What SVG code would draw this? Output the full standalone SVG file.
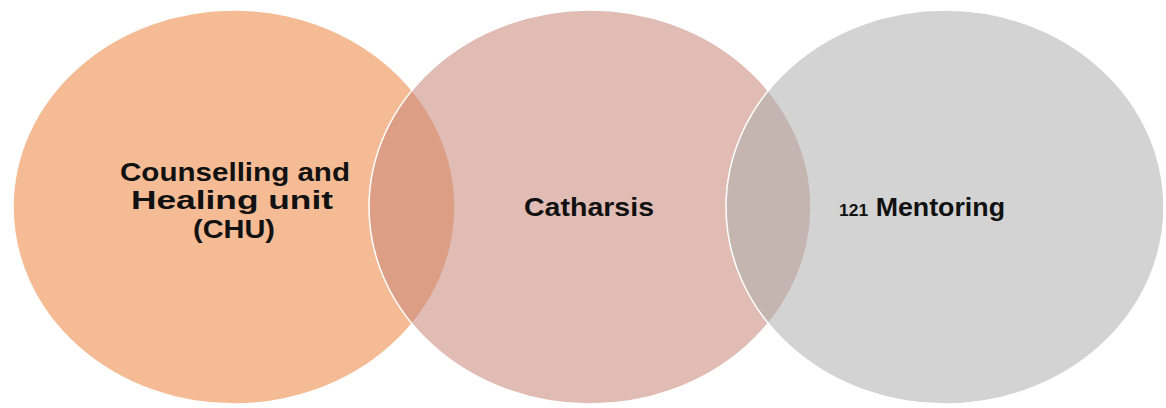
<svg xmlns="http://www.w3.org/2000/svg" width="1166" height="408" viewBox="0 0 1166 408">
  <style>
    .lbl { font-family: "Liberation Sans", Arial, sans-serif; font-weight: bold; font-size: 26px; fill: #111111; text-anchor: middle; }
    .circle { stroke: #ffffff; stroke-width: 1.5; }
  </style>
  <rect width="1166" height="408" fill="#ffffff"/>
  <g id="node-chu">
    <ellipse class="circle" cx="234" cy="207" rx="221" ry="197" fill="#F5BB95"/>
  </g>
  <g id="node-catharsis">
    <ellipse class="circle" cx="590" cy="207" rx="221" ry="197" fill="rgb(200,137,123)" fill-opacity="0.57"/>
  </g>
  <g id="node-mentoring">
    <ellipse class="circle" cx="945" cy="207" rx="219" ry="197" fill="rgb(175,175,175)" fill-opacity="0.55"/>
  </g>
  <g id="labels">
    <text class="lbl" x="235" y="181" textLength="230" lengthAdjust="spacingAndGlyphs">Counselling and</text>
    <text class="lbl" x="232" y="209" textLength="202" lengthAdjust="spacingAndGlyphs">Healing unit</text>
    <text class="lbl" x="234" y="238" textLength="82" lengthAdjust="spacingAndGlyphs">(CHU)</text>
    <text class="lbl" x="589" y="216" textLength="130" lengthAdjust="spacingAndGlyphs">Catharsis</text>
    <text class="lbl" x="922" y="216" textLength="166" lengthAdjust="spacingAndGlyphs"><tspan font-size="17">121</tspan> Mentoring</text>
  </g>
  <g id="connectors"/>
</svg>
